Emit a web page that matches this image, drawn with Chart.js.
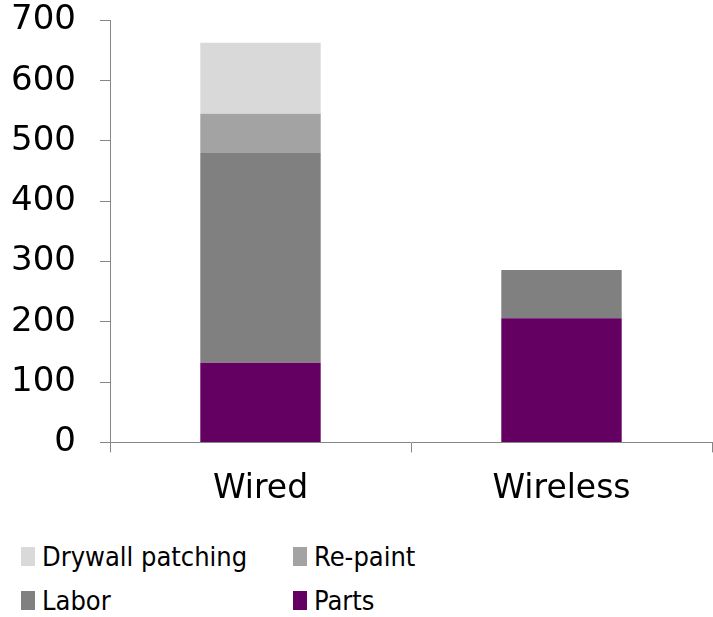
<!DOCTYPE html>
<html>
<head>
<meta charset="utf-8">
<script src="https://cdn.jsdelivr.net/npm/chart.js@4"></script>
<style>
  html, body { margin: 0; padding: 0; background: #fff; overflow: hidden; }
  #wrap { position: relative; width: 713px; height: 617px; overflow: hidden; }
  #chartBox { position: absolute; left: 0; top: -24px; width: 713px; height: 550px; }
  #legend { position: absolute; left: 21px; top: 534px; display: grid; grid-template-columns: 272px 272px; grid-auto-rows: 44px; font-family: "DejaVu Sans Condensed", "DejaVu Sans", sans-serif; font-size: 27px; color: #000; }
  .item { display: flex; align-items: center; white-space: nowrap; }
  .sw { width: 14px; height: 19px; margin-right: 7px; flex: none; }
</style>
</head>
<body>
<div id="wrap">
  <div id="chartBox"><canvas id="c"></canvas></div>
  <div id="legend"></div>
</div>
<script>
const categories = ["Wired", "Wireless"];
const seriesNames = ["Parts", "Labor", "Re-paint", "Drywall patching"];
const parts = [132, 206];
const labor = [348, 80];
const repaint = [65, 0];
const drywall = [118, 0];
const seriesColors = ["#630062", "#808080", "#a3a3a3", "#d9d9d9"];
const yTicks = [0, 100, 200, 300, 400, 500, 600, 700];
const legendOrder = ["Drywall patching", "Re-paint", "Labor", "Parts"];

const values = [parts, labor, repaint, drywall];
const datasets = seriesNames.map((n, i) => ({
  label: n,
  data: values[i],
  backgroundColor: seriesColors[i],
  borderWidth: 0,
  categoryPercentage: 1.0,
  barPercentage: 0.4
}));

const axisColor = "#868686";
new Chart(document.getElementById("c"), {
  type: "bar",
  data: { labels: categories, datasets },
  options: {
    responsive: true,
    maintainAspectRatio: false,
    animation: false,
    layout: { padding: { top: 0, right: 1, left: 0, bottom: 0 } },
    plugins: { legend: { display: false }, tooltip: { enabled: false } },
    scales: {
      x: {
        stacked: true,
        offset: true,
        grid: { offset: true, drawOnChartArea: false, drawTicks: true, tickLength: 10, color: axisColor },
        border: { color: axisColor, width: 1 },
        ticks: { color: "#000", padding: 17, font: { family: "DejaVu Sans", size: 33 } }
      },
      y: {
        stacked: true,
        min: 0,
        max: 700,
        afterBuildTicks: (axis) => { axis.ticks = yTicks.map(v => ({ value: v })); },
        afterFit: (axis) => { axis.width = 110; },
        grid: { drawOnChartArea: false, drawTicks: true, tickLength: 10, color: axisColor },
        border: { color: axisColor, width: 1 },
        ticks: { color: "#000", padding: 24, font: { family: "DejaVu Sans", size: 34 } }
      }
    }
  }
});

const legend = document.getElementById("legend");
legendOrder.forEach(name => {
  const i = seriesNames.indexOf(name);
  const it = document.createElement("div");
  it.className = "item";
  const sw = document.createElement("span");
  sw.className = "sw";
  sw.style.background = seriesColors[i];
  const t = document.createElement("span");
  t.textContent = name;
  it.appendChild(sw);
  it.appendChild(t);
  legend.appendChild(it);
});
</script>
</body>
</html>
